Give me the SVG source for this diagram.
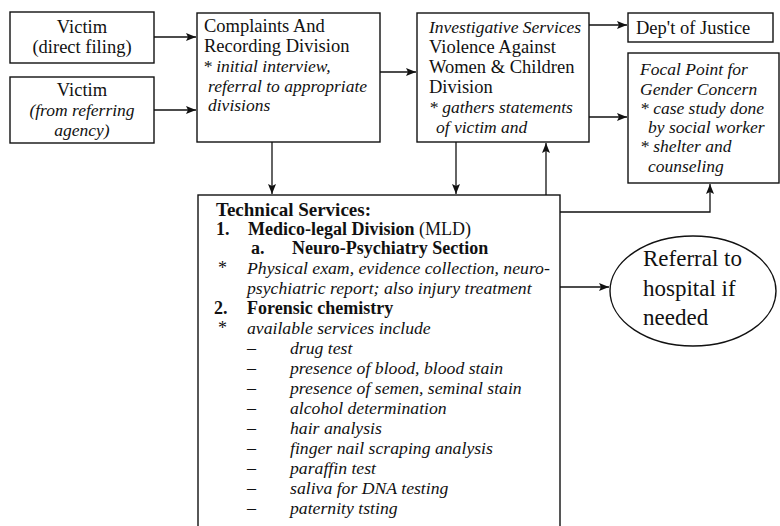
<svg xmlns="http://www.w3.org/2000/svg" width="780" height="526" viewBox="0 0 780 526">
<style>
text{font-family:"Liberation Serif","Times New Roman",serif;fill:#111}
.box{fill:#fff;stroke:#111;stroke-width:1.4}
.r{font-size:18.5px}
.i{font-size:17.5px;font-style:italic}
.t{font-size:18px}
.h{font-size:19px;font-weight:bold}
.ti{font-size:17.7px;font-style:italic}
.b{font-weight:bold}
.c{text-anchor:middle}
.ln{fill:none;stroke:#111;stroke-width:1.3}
</style>
<defs>
<marker id="ah" viewBox="0 0 10 8" refX="10" refY="4" markerWidth="10" markerHeight="8" markerUnits="userSpaceOnUse" orient="auto">
<path d="M0,0 L10,4 L0,8 L2,4 Z" fill="#111"/>
</marker>
</defs>
<g id="connectors">
<line class="ln" x1="154" y1="37" x2="196" y2="37" marker-end="url(#ah)"/>
<line class="ln" x1="154" y1="110" x2="196" y2="110" marker-end="url(#ah)"/>
<line class="ln" x1="380" y1="72" x2="416" y2="72" marker-end="url(#ah)"/>
<line class="ln" x1="589" y1="25" x2="627" y2="25" marker-end="url(#ah)"/>
<line class="ln" x1="589" y1="117" x2="627" y2="117" marker-end="url(#ah)"/>
<line class="ln" x1="272" y1="142" x2="272" y2="194" marker-end="url(#ah)"/>
<line class="ln" x1="456" y1="142" x2="456" y2="194" marker-end="url(#ah)"/>
<line class="ln" x1="546" y1="195" x2="546" y2="143" marker-end="url(#ah)"/>
<polyline class="ln" points="560,212 710,212 710,184" marker-end="url(#ah)"/>
<line class="ln" x1="560" y1="287" x2="609" y2="287" marker-end="url(#ah)"/>
</g>
<g id="victim-direct">
<rect class="box" x="10" y="12" width="144" height="51"/>
<text class="r c" x="82" y="33">Victim</text>
<text class="r c" x="82" y="53">(direct filing)</text>
</g>
<g id="victim-referring">
<rect class="box" x="10" y="77" width="144" height="66"/>
<text class="r c" x="82" y="96">Victim</text>
<text class="i c" x="82" y="116">(from referring</text>
<text class="i c" x="82" y="136">agency)</text>
</g>
<g id="complaints">
<rect class="box" x="197" y="13" width="183" height="129"/>
<text class="r" x="204" y="32">Complaints And</text>
<text class="r" x="204" y="52">Recording Division</text>
<text class="i" x="203" y="72">* initial interview,</text>
<text class="i" x="208" y="92">referral to appropriate</text>
<text class="i" x="208" y="111">divisions</text>
</g>
<g id="investigative">
<rect class="box" x="417" y="13" width="172" height="129"/>
<text class="i" x="429" y="33">Investigative Services</text>
<text class="r" x="429" y="53">Violence Against</text>
<text class="r" x="429" y="73">Women &amp; Children</text>
<text class="r" x="429" y="93">Division</text>
<text class="i" x="429" y="113">* gathers statements</text>
<text class="i" x="436" y="133">of victim and</text>
</g>
<g id="justice">
<rect class="box" x="628" y="13" width="145" height="29"/>
<text class="r" x="636" y="34">Dep't of Justice</text>
</g>
<g id="focal-point">
<rect class="box" x="628" y="53" width="151" height="130"/>
<text class="i" x="640" y="75">Focal Point for</text>
<text class="i" x="640" y="95">Gender Concern</text>
<text class="i" x="640" y="114">* case study done</text>
<text class="i" x="648" y="133">by social worker</text>
<text class="i" x="640" y="152">* shelter and</text>
<text class="i" x="648" y="172">counseling</text>
</g>
<g id="technical-services">
<rect class="box" x="198" y="195" width="362" height="345"/>
<text class="h" x="216" y="216">Technical Services:</text>
<text class="t" x="216" y="235"><tspan class="b">1.</tspan><tspan class="b" x="248">Medico-legal Division</tspan> (MLD)</text>
<text class="t b" x="251" y="254">a.</text>
<text class="t b" x="292" y="254">Neuro-Psychiatry Section</text>
<text class="t" x="218" y="274">*</text>
<text class="ti" x="247" y="274">Physical exam, evidence collection, neuro-</text>
<text class="ti" x="247" y="294">psychiatric report; also injury treatment</text>
<text class="t b" x="214" y="314">2.</text>
<text class="t b" x="247" y="314">Forensic chemistry</text>
<text class="t" x="218" y="334">*</text>
<text class="ti" x="247" y="334">available services include</text>
<text class="t" x="247" y="354">–</text><text class="ti" x="290" y="354">drug test</text>
<text class="t" x="247" y="374">–</text><text class="ti" x="290" y="374">presence of blood, blood stain</text>
<text class="t" x="247" y="394">–</text><text class="ti" x="290" y="394">presence of semen, seminal stain</text>
<text class="t" x="247" y="414">–</text><text class="ti" x="290" y="414">alcohol determination</text>
<text class="t" x="247" y="434">–</text><text class="ti" x="290" y="434">hair analysis</text>
<text class="t" x="247" y="454">–</text><text class="ti" x="290" y="454">finger nail scraping analysis</text>
<text class="t" x="247" y="474">–</text><text class="ti" x="290" y="474">paraffin test</text>
<text class="t" x="247" y="494">–</text><text class="ti" x="290" y="494">saliva for DNA testing</text>
<text class="t" x="247" y="514">–</text><text class="ti" x="290" y="514">paternity tsting</text>
</g>
<g id="hospital-referral">
<ellipse class="box" cx="693" cy="291" rx="83" ry="55"/>
<text class="r" x="643" y="266" style="font-size:23px">Referral to</text>
<text class="r" x="643" y="296" style="font-size:23px">hospital if</text>
<text class="r" x="643" y="325" style="font-size:23px">needed</text>
</g>
</svg>
